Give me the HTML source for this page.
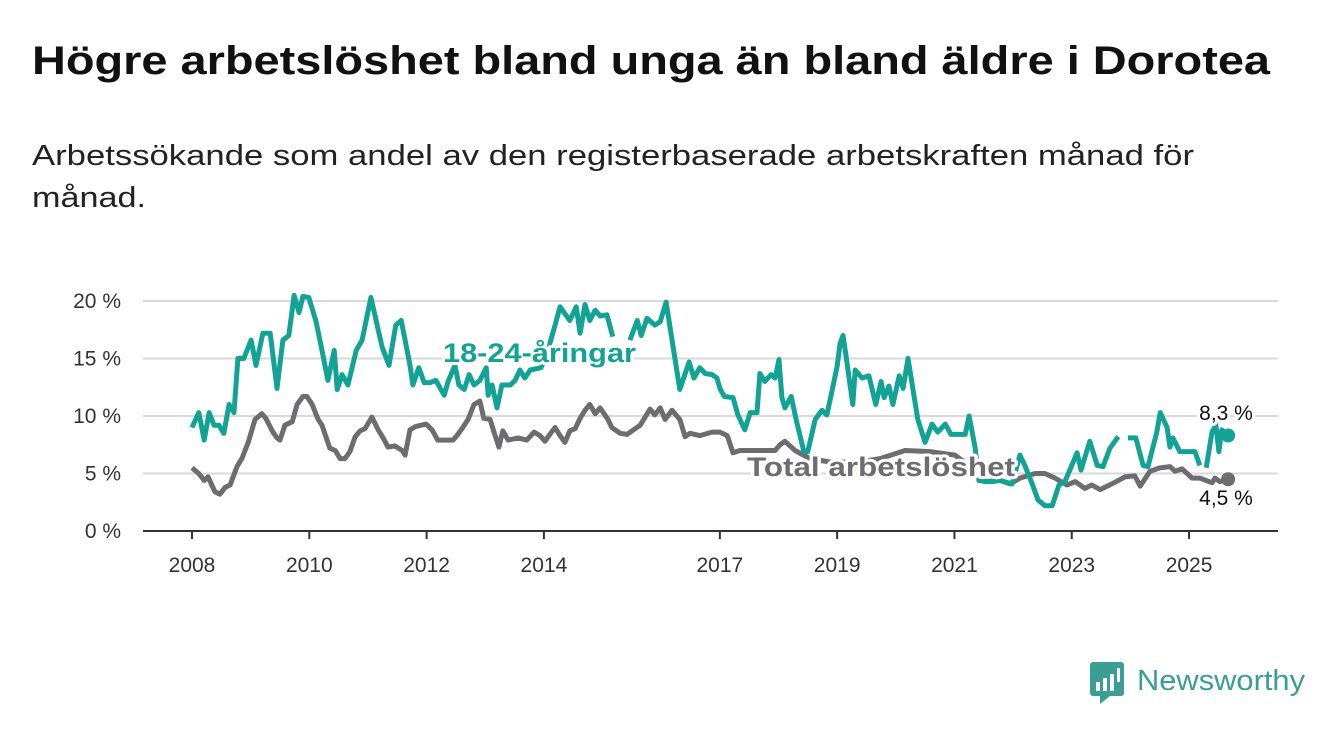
<!DOCTYPE html>
<html><head><meta charset="utf-8"><style>
body{margin:0;background:#fff;}
svg{display:block;font-family:"Liberation Sans",sans-serif;}
</style></head><body>
<svg id="chart" width="1340" height="734">
<text x="32" y="74" font-size="40" font-weight="bold" fill="#111" textLength="1238" lengthAdjust="spacingAndGlyphs">Högre arbetslöshet bland unga än bland äldre i Dorotea</text>
<text x="32" y="165" font-size="29" fill="#222" textLength="1162" lengthAdjust="spacingAndGlyphs">Arbetssökande som andel av den registerbaserade arbetskraften månad för</text>
<text x="32" y="207" font-size="29" fill="#222" textLength="114" lengthAdjust="spacingAndGlyphs">månad.</text>
<g id="grid"></g><g id="series"></g><g id="labels"></g>
<g>
<rect x="1090" y="662" width="34" height="34" rx="3" fill="#3a9e95"/>
<polygon points="1100,696 1110,696 1100,704" fill="#3a9e95"/>
<rect x="1096" y="682" width="4" height="9" fill="#fff"/><rect x="1103" y="678" width="4" height="13" fill="#fff"/><rect x="1110" y="674" width="4" height="17" fill="#fff"/><rect x="1117" y="668" width="3" height="14" fill="#fff"/>
<text x="1137" y="690" font-size="29" fill="#3a9e95" textLength="168" lengthAdjust="spacingAndGlyphs">Newsworthy</text>
</g>
</svg>
<script>
const yTicks=[0,5,10,15,20];
const xTickYears=[2008,2010,2012,2014,2017,2019,2021,2023,2025];
const youthMonths=[0,1.4,2.5,3.5,4.5,5.5,6.5,7.6,8.6,9.4,10.6,12.1,13.1,14.5,16,17.4,18.6,19.8,20.9,21.9,22.7,23.9,25.4,26.6,27.8,29.1,29.7,30.7,31.9,33.6,34.8,36.6,38.9,40.3,41.7,42.8,43.6,44.6,45.2,46.4,47.5,48.7,49.9,51.6,52.4,53.8,54.6,55.7,56.7,57.7,58.9,60.2,60.6,61.4,62.4,63.4,65.1,66.1,67.1,68.1,69.2,71.4,72.8,74.3,75.3,77.3,78.6,79.4,80.4,81.4,82.5,83.5,84.9,86.1,88,89.6,91.1,91.9,93.1,94.7,95.8,97,99.8,101.7,102.7,103.9,105,106.4,107.4,108,108.9,110.7,111.7,113.1,114.2,115.6,116.2,117.2,118.5,119.3,120.1,120.7,121.3,122.6,123.6,124.4,125.2,126,127.5,128.9,129.9,130.9,132,132.6,133.2,133.8,135.2,135.7,137.1,138.5,139.9,141,141.6,142.6,143.4,144.7,145.5,146.5,148.5,150,151.4,152.6,154.1,155.3,158.2,159,160.2,161,162.3,163.9,165.3,167.8,169.4,170.4,171.9,173.1,174.5,176,177.4,178.6,181.1,181.9,183.7,185.2,186.4,187.8,189.5,190.5,191.5,193.1,194.6,195.6,197.4,198.1,199.5,200.1,200.7,202.1,205.2,206.2,206.9,207.5,208.7,209.5,210.1,210.7,212];
const youthValues=[9.0,10.3,7.9,10.3,9.2,9.2,8.5,11.0,10.3,15.0,15.0,16.6,14.4,17.2,17.2,12.4,16.6,17.0,20.5,19.0,20.4,20.3,18.2,15.7,13.1,15.7,12.3,13.6,12.7,15.7,16.6,20.3,16.0,14.4,17.9,18.3,16.6,14.4,12.7,14.2,12.9,12.9,13.1,11.8,13.0,14.4,12.7,12.3,13.6,12.7,13.1,14.2,11.8,12.7,10.7,12.7,12.7,13.1,14.0,13.3,14.0,14.2,15.7,17.9,19.5,18.3,19.5,17.2,19.7,18.3,19.2,18.7,18.8,16.9,null,16.6,18.3,17.0,18.5,17.9,18.2,19.9,12.3,14.7,13.3,14.2,13.7,13.6,13.3,12.4,11.7,11.6,10.1,8.8,10.3,10.3,13.7,13.0,13.6,13.3,14.9,11.6,10.7,11.7,9.7,8.3,6.9,6.9,9.7,10.5,10.1,12.1,14.3,16.3,17.0,15.3,11.0,14.0,13.3,13.5,11.0,13.0,11.6,12.6,11.0,13.5,12.4,15.0,9.7,7.7,9.3,8.6,9.3,8.4,8.4,10.0,7.3,4.4,4.3,4.3,4.4,4.1,6.6,5.7,4.1,2.7,2.2,2.2,4.0,4.3,6.8,5.3,7.8,5.7,5.6,7.2,8.2,null,8.1,8.1,5.7,5.6,8.6,10.3,9.0,7.3,8.1,6.9,6.9,5.7,null,5.5,8.6,9.2,6.9,8.8,8.3];
const totalMonths=[0,1.4,2.5,3.3,4.7,5.7,6.8,7.8,9.2,10.2,11.5,12.9,14.3,15.1,16.4,17.4,18,19,20.5,21.5,22.7,23.5,24.6,25.8,26.6,28.2,29.3,30.3,31.3,32.3,33.4,34.4,35.4,36.8,38.1,39.1,40.1,41.5,43,43.6,44.6,45.8,47.9,49.1,50.3,52.2,53.4,54.2,55.4,56.5,57.7,58.9,59.7,61,61.8,62.8,63.6,64.7,66.7,68.5,70,71.2,72.2,73.2,74.3,75.3,76.3,77.3,78.4,79.4,80.4,81.4,82.5,83.5,85.1,85.9,87.6,89,91.7,93.7,94.7,95.8,96.8,98.2,99.8,100.9,101.9,103.9,106.4,108,109.5,110.7,112.1,116.2,119.3,120.3,121.3,123.4,126.4,130.5,136.7,140.8,145.9,151,156.1,160.2,162.3,165.3,167.4,169.4,172.5,174.5,176.6,179,180.7,182.7,184.1,185.8,188.2,190.9,192.9,194,196,198.1,200.1,201.1,202.6,204.6,206.2,208.7,209.3,210.3,212];
const totalValues=[5.5,5.0,4.4,4.7,3.4,3.2,3.8,4.0,5.6,6.3,7.7,9.7,10.2,9.8,8.7,8.1,7.9,9.2,9.5,11.0,11.7,11.7,11.0,9.7,9.2,7.2,7.0,6.3,6.3,6.9,8.2,8.7,8.9,9.9,8.8,8.1,7.3,7.4,7.0,6.6,8.8,9.1,9.3,8.8,7.9,7.9,7.9,8.3,9.0,9.7,11.0,11.3,9.8,9.7,8.6,7.3,8.7,7.9,8.1,7.9,8.6,8.3,7.8,8.4,9.0,8.3,7.7,8.7,8.9,9.8,10.5,11.0,10.2,10.7,9.7,9.0,8.5,8.4,9.2,10.6,10.1,10.7,9.7,10.5,9.7,8.2,8.5,8.3,8.6,8.6,8.3,6.8,7.0,7.0,7.0,7.5,7.8,7.0,6.3,6.0,6.0,6.3,7.0,6.9,6.6,5.3,4.3,4.4,4.1,4.6,5.0,5.0,4.6,4.0,4.3,3.7,4.0,3.6,4.1,4.7,4.8,3.9,5.2,5.5,5.6,5.2,5.4,4.6,4.6,4.2,4.6,4.3,4.5];

const NS='http://www.w3.org/2000/svg';
const X0=192, PX_PER_MONTH=58.65/12, Y0=531, PX_PER_PCT=11.5, LEFT=143, RIGHT=1278;
function xMonth(m){return X0+m*PX_PER_MONTH;}
function xYear(y){return xMonth((y-2008)*12);}
function yVal(v){return Y0-v*PX_PER_PCT;}
function mk(tag,attrs,parent){const e=document.createElementNS(NS,tag);for(const k in attrs)e.setAttribute(k,attrs[k]);parent.appendChild(e);return e;}
const grid=document.getElementById('grid'),series=document.getElementById('series'),labels=document.getElementById('labels');
yTicks.forEach(t=>{
  if(t>0){const l=mk('line',{x1:LEFT,x2:RIGHT,y1:yVal(t),y2:yVal(t),stroke:'#d9d9d9','stroke-width':2},grid);
  
  }
  const tx=mk('text',{x:121,y:yVal(t)+7,'text-anchor':'end','font-size':21,fill:'#333'},grid);
  tx.textContent=t+' %';
  
  
});
const ax=mk('line',{x1:LEFT,x2:RIGHT,y1:Y0,y2:Y0,stroke:'#333','stroke-width':2},grid);


xTickYears.forEach(yr=>{
  const x=xYear(yr);
  const tk=mk('line',{x1:x,x2:x,y1:Y0,y2:Y0+8,stroke:'#333','stroke-width':2},grid);
  
  
  const tx=mk('text',{x:x,y:572,'text-anchor':'middle','font-size':21,fill:'#333'},grid);
  tx.textContent=yr;
  
  
});
function pathFor(ms,vs){let d='',pen=false;ms.forEach((m,i)=>{const v=vs[i];if(v===null){pen=false;return;}d+=(pen?'L':'M')+xMonth(m).toFixed(1)+','+yVal(v).toFixed(1);pen=true;});return d;}
const pt=mk('path',{d:pathFor(totalMonths,totalValues),fill:'none',stroke:'#6d6c70','stroke-width':5,'stroke-linejoin':'round'},series);


const py=mk('path',{d:pathFor(youthMonths,youthValues),fill:'none',stroke:'#13a395','stroke-width':5,'stroke-linejoin':'round'},series);


const lt=totalMonths.length-1, ly=youthMonths.length-1;
const dt=mk('circle',{cx:xMonth(totalMonths[lt]),cy:yVal(totalValues[lt]),r:7,fill:'#6d6c70'},series);


const dy=mk('circle',{cx:xMonth(youthMonths[ly]),cy:yVal(youthValues[ly]),r:7,fill:'#13a395'},series);


function lab(txt,x,y,fill,size,weight,name,anchor,len){const a={x:x,y:y,fill:fill,'font-size':size,'font-weight':weight,'text-anchor':anchor||'start',stroke:'#fff','stroke-width':6,'paint-order':'stroke','stroke-linejoin':'round'};if(len){a.textLength=len;a.lengthAdjust='spacingAndGlyphs';}const t=mk('text',a,labels);t.textContent=txt;

return t;}
lab('18-24-åringar',443,362,'#13a395',27,'bold','youth-series-label','start',193);
lab('Total arbetslöshet',747,476,'#6d6c70',27,'bold','total-series-label','start',268);
lab(youthValues[ly].toString().replace('.',',')+' %',1226,420,'#111',21,'normal','youth-end-value','middle');
lab(totalValues[lt].toString().replace('.',',')+' %',1226,505,'#111',21,'normal','total-end-value','middle');
</script>
</body></html>
